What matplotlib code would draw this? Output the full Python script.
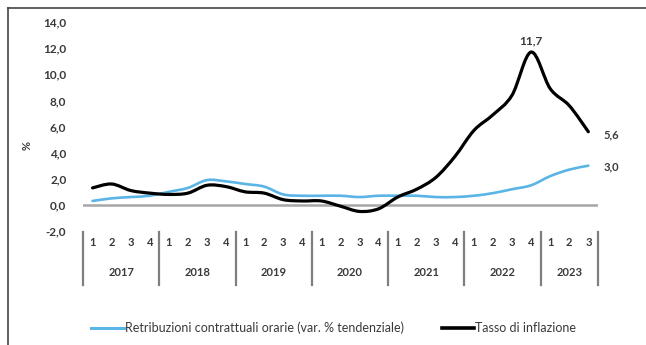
import matplotlib
matplotlib.use('Agg')
import matplotlib.pyplot as plt
from matplotlib.path import Path
from matplotlib.patches import PathPatch
from matplotlib.lines import Line2D
import matplotlib.transforms as mtransforms

years = ['2017', '2018', '2019', '2020', '2021', '2022', '2023']
quarters_per_year = [4, 4, 4, 4, 4, 4, 3]

# retribuzioni contrattuali orarie, var. % tendenziale (trimestrale)
wages = [0.3, 0.5, 0.6, 0.7,
         1.0, 1.3, 1.9, 1.8,
         1.6, 1.4, 0.8, 0.7,
         0.7, 0.7, 0.6, 0.7,
         0.7, 0.7, 0.6, 0.6,
         0.7, 0.9, 1.2, 1.5,
         2.2, 2.7, 3.0]

# tasso di inflazione (trimestrale)
inflation = [1.3, 1.6, 1.1, 0.9,
             0.8, 0.9, 1.5, 1.4,
             1.0, 0.9, 0.4, 0.3,
             0.3, -0.1, -0.5, -0.3,
             0.6, 1.2, 2.1, 3.7,
             5.7, 6.9, 8.4, 11.7,
             8.9, 7.6, 5.6]

y_ticks = [-2, 0, 2, 4, 6, 8, 10, 12, 14]

BLUE = '#5ab4e5'
TEXT = '#3a3a3a'

plt.rcParams['font.family'] = ['Lato', 'DejaVu Sans']


def smooth_path(xs, ys):
    # Excel-style smoothed line: cubic Bezier through every point
    verts = [(xs[0], ys[0])]
    codes = [Path.MOVETO]
    n = len(xs)
    for i in range(n - 1):
        xp, yp = (xs[i - 1], ys[i - 1]) if i > 0 else (xs[i], ys[i])
        xn, yn = (xs[i + 2], ys[i + 2]) if i + 2 < n else (xs[i + 1], ys[i + 1])
        c1 = (xs[i] + (xs[i + 1] - xp) / 6, ys[i] + (ys[i + 1] - yp) / 6)
        c2 = (xs[i + 1] - (xn - xs[i]) / 6, ys[i + 1] - (yn - ys[i]) / 6)
        verts += [c1, c2, (xs[i + 1], ys[i + 1])]
        codes += [Path.CURVE4] * 3
    return Path(verts, codes)


fig = plt.figure(figsize=(6.46, 3.45), dpi=100)
ax = fig.add_axes([0.1285, 0.3304, 0.797, 0.6058])

x = list(range(len(inflation)))
ax.add_patch(PathPatch(smooth_path(x, wages), fill=False, edgecolor=BLUE,
                       linewidth=1.9, capstyle='round', joinstyle='round', zorder=3))
ax.add_patch(PathPatch(smooth_path(x, inflation), fill=False, edgecolor='black',
                       linewidth=2.3, capstyle='round', joinstyle='round', zorder=4))

ax.axhline(0, color='#a6a6a6', linewidth=1.8, zorder=2)

ax.set_xlim(-0.5, len(x) - 0.5)
ax.set_ylim(-2, 14)
ax.set_yticks(y_ticks)
ax.set_yticklabels([f'{v:.1f}'.replace('.', ',') for v in y_ticks],
                   fontsize=8.5, color=TEXT, fontweight='bold')
ax.tick_params(axis='y', length=0, pad=12)
ax.set_xticks([])
for s in ax.spines.values():
    s.set_visible(False)

# category axis: quarters, years and dividers
trans = mtransforms.blended_transform_factory(ax.transData, ax.transAxes)
start = 0
boundaries = [-0.5]
for yr, nq in zip(years, quarters_per_year):
    for q in range(nq):
        ax.text(start + q, -0.057, str(q + 1), transform=trans, ha='center',
                va='center', fontsize=8, color=TEXT, fontweight='bold')
    ax.text(start + (nq - 1) / 2, -0.2, yr, transform=trans, ha='center',
            va='center', fontsize=8, color=TEXT, fontweight='bold')
    start += nq
    boundaries.append(start - 0.5)
for b in boundaries:
    ax.plot([b, b], [-0.005, -0.258], transform=trans, color='#7f7f7f',
            linewidth=1.6, clip_on=False)

# data labels
ax.annotate('11,7', (23, 11.7), xytext=(0, 4), textcoords='offset points',
            ha='center', va='bottom', fontsize=8.5, color=TEXT, fontweight='bold')
ax.annotate('5,6', (26, 5.6), xytext=(11, -2), textcoords='offset points',
            ha='left', va='center', fontsize=8, color=TEXT, fontweight='bold')
ax.annotate('3,0', (26, 3.0), xytext=(11, -1), textcoords='offset points',
            ha='left', va='center', fontsize=8, color=TEXT, fontweight='bold')

fig.text(27 / 646, 1 - 145 / 345, '%', rotation=90, ha='center', va='center',
         fontsize=8, color=TEXT, fontweight='bold')

handles = [Line2D([], [], color=BLUE, linewidth=2.2),
           Line2D([], [], color='black', linewidth=2.6)]
labels = ['Retribuzioni contrattuali orarie (var. % tendenziale)', 'Tasso di inflazione']
fig.legend(handles, labels, loc='center', bbox_to_anchor=(0.517, 0.049), ncol=2,
           frameon=False, fontsize=9, handlelength=2.6, handletextpad=0.1,
           columnspacing=3.0, labelcolor=TEXT)

# frame remnants of the cropped picture
fig.add_artist(Line2D([8 / 646, 1], [1 - 8 / 345, 1 - 8 / 345], color='#444444', linewidth=1.2))
fig.add_artist(Line2D([8 / 646, 8 / 646], [0, 1 - 8 / 345], color='#444444', linewidth=1.2))

fig.savefig('out.png', dpi=100)
